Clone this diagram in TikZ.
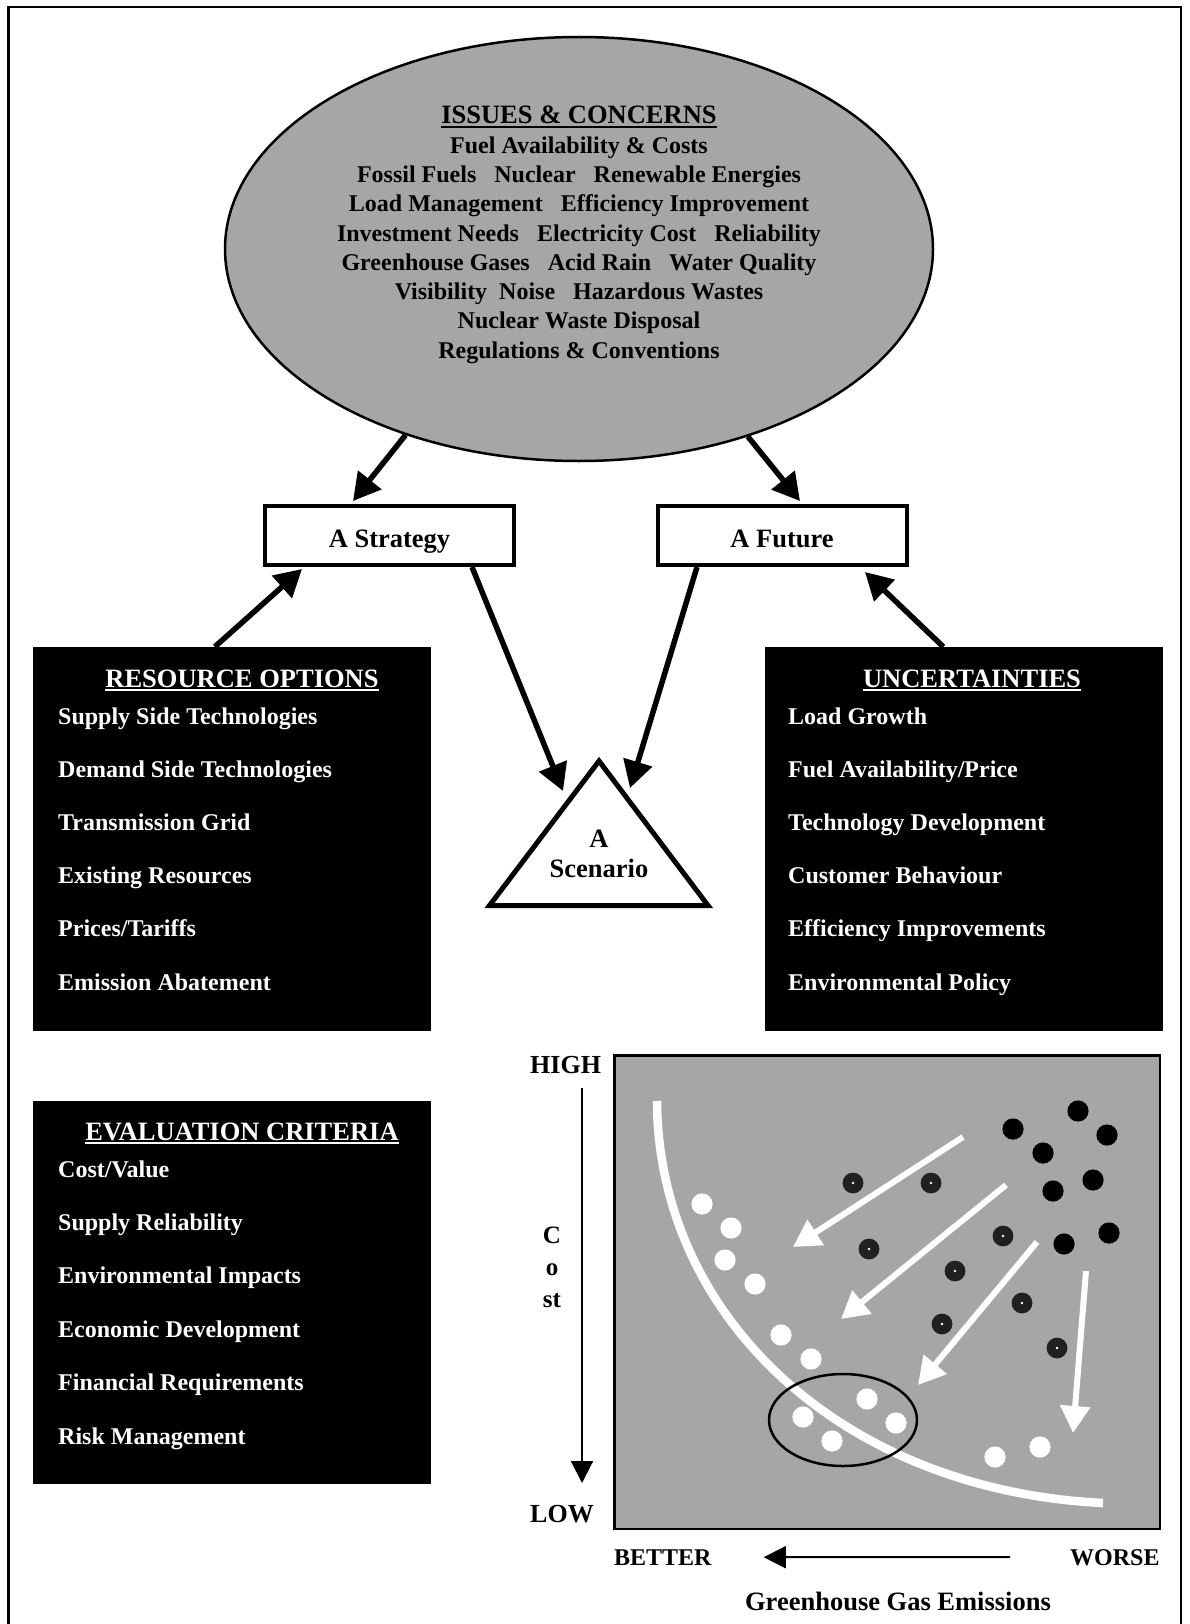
\documentclass[tikz,border=0pt]{standalone}
\usepackage{fontspec}
\setmainfont{Liberation Serif}
\usetikzlibrary{arrows.meta,shapes.geometric}
\definecolor{panelgray}{RGB}{166,166,166}
\definecolor{dotdark}{RGB}{32,32,32}
\begin{document}
\begin{tikzpicture}[x=1pt,y=-1pt,
  listitem/.style={inner sep=0pt, anchor=base west, font=\bfseries\fontsize{24}{28}\selectfont},
  issue/.style={inner sep=0pt, anchor=base, font=\bfseries\fontsize{24}{28}\selectfont},
  heading/.style={inner sep=0pt, anchor=base, font=\bfseries\fontsize{26.5}{30}\selectfont},
  costletter/.style={inner sep=0pt, anchor=base, font=\bfseries\fontsize{25}{28}\selectfont},
  endlabel/.style={inner sep=0pt, anchor=base west, font=\bfseries\fontsize{26}{30}\selectfont},
  ghglabel/.style={inner sep=0pt, anchor=base west, font=\bfseries\fontsize{24}{28}\selectfont},
  flowarrow/.style={line width=5.5pt, -{Triangle[length=27pt,width=29pt]}},
  movearrow/.style={white, line width=6pt, -{Triangle[length=27pt,width=29pt]}},
  costaxis/.style={line width=2pt, -{Triangle[length=22pt,width=22pt]}},
  namebox/.style={draw, line width=4pt, fill=white, minimum width=249pt, minimum height=59pt,
    inner sep=0pt, text height=23pt, text depth=0pt, font=\bfseries\fontsize{26.5}{30}\selectfont},
  listbox/.style={fill=black, minimum width=398pt, minimum height=384pt, inner sep=0pt},
  gooddot/.style={fill=white},
  baddot/.style={fill=black},
  middot/.style={fill=dotdark},
]
\useasboundingbox (0,0) rectangle (1189,1624);

% page frame
\draw[line width=2.5pt] (8.3,1630) -- (8.3,7) -- (1181,7) -- (1181,1630);

% issues & concerns
\node[ellipse, draw, line width=2.5pt, fill=panelgray, minimum width=708pt, minimum height=424pt, inner sep=0pt] (issues) at (579,249) {};
\node[heading] (issuestitle) at (579,124) {ISSUES \& CONCERNS};
\draw[line width=1.5pt] ([yshift=-3pt]issuestitle.base west) -- ([yshift=-3pt]issuestitle.base east);
\foreach \txt [count=\i] in {
  Fuel Availability \& Costs,
  Fossil Fuels~~~Nuclear~~~Renewable Energies,
  Load Management~~~Efficiency Improvement,
  Investment Needs~~~Electricity Cost~~~Reliability,
  Greenhouse Gases~~~Acid Rain~~~Water Quality,
  Visibility~~Noise~~~Hazardous Wastes,
  Nuclear Waste Disposal,
  Regulations \& Conventions}
  \node[issue] (issue\i) at (579,{124+29.25*\i}) {\txt};

% strategy and future
\node[namebox] (strategy) at (389.5,535.5) {A Strategy};
\node[namebox] (future) at (782,535.5) {A Future};

% scenario
\draw[line width=5pt] (599,761) -- (708,905.5) -- (489.5,905.5) -- cycle;
\node[heading] (scenA) at (599,847) {A};
\node[heading] (scenB) at (599,877) {Scenario};
\coordinate (scenL) at (563,791);
\coordinate (scenR) at (630,788);

% resource options
\node[listbox] (resources) at (232,839) {};
\node[heading, text=white] (restitle) at (242,687) {RESOURCE OPTIONS};
\draw[white, line width=1.5pt] ([yshift=-3pt]restitle.base west) -- ([yshift=-3pt]restitle.base east);
\foreach \txt [count=\i] in {Supply Side Technologies, Demand Side Technologies, Transmission Grid,
  Existing Resources, Prices/Tariffs, Emission Abatement}
  \node[listitem, text=white] (res\i) at (58,{670.8+53.2*\i}) {\txt};

% uncertainties
\node[listbox] (uncertain) at (963.5,839) {};
\node[heading, text=white] (unctitle) at (972,687) {UNCERTAINTIES};
\draw[white, line width=1.5pt] ([yshift=-3pt]unctitle.base west) -- ([yshift=-3pt]unctitle.base east);
\foreach \txt [count=\i] in {Load Growth, Fuel Availability/Price, Technology Development,
  Customer Behaviour, Efficiency Improvements, Environmental Policy}
  \node[listitem, text=white] (unc\i) at (788,{670.8+53.2*\i}) {\txt};

% evaluation criteria
\node[listbox, minimum height=383pt] (criteria) at (232,1292.5) {};
\node[heading, text=white] (evaltitle) at (242,1140) {EVALUATION CRITERIA};
\draw[white, line width=1.5pt] ([yshift=-3pt]evaltitle.base west) -- ([yshift=-3pt]evaltitle.base east);
\foreach \txt [count=\i] in {Cost/Value, Supply Reliability, Environmental Impacts,
  Economic Development, Financial Requirements, Risk Management}
  \node[listitem, text=white] (eval\i) at (58,{1123.6+53.4*\i}) {\txt};

% connectors
\draw[flowarrow] (issues.227) -- ([xshift=90pt,yshift=3pt]strategy.north west);
\draw[flowarrow] (issues.312) -- ([xshift=144.5pt,yshift=3pt]future.north west);
\draw[flowarrow] ([xshift=182pt]resources.north west) -- ([xshift=39pt,yshift=-2pt]strategy.south west);
\draw[flowarrow] ([xshift=179pt]uncertain.north west) -- ([xshift=209.5pt,yshift=-5pt]future.south west);
\draw[flowarrow] ([xshift=209pt]strategy.south west) -- (scenL);
\draw[flowarrow] ([xshift=41.5pt]future.south west) -- (scenR);

% cost / emissions chart
\node[draw, line width=2.5pt, fill=panelgray, minimum width=545.5pt, minimum height=473.5pt, inner sep=0pt] (chart) at (887,1292) {};
\draw[white, line width=8.5pt] (657,1101) .. controls (658,1315) and (840,1490) .. (1103,1503);
\foreach \p in {(702,1204),(731,1228),(725,1260),(755,1284),(781,1335),(811,1359),
  (867,1399),(803,1417),(832,1441),(896,1423),(995,1457),(1040,1447)}
  \fill[white] \p circle[radius=10.6];
\foreach \p in {(1013,1129),(1078,1111),(1107,1135),(1043,1153),(1093,1180),(1053,1191),
  (1109,1233),(1064,1244)}
  \fill[black] \p circle[radius=10.6];
\foreach \p in {(853,1183),(931,1183),(869,1249),(1003,1236),(955,1271),(1022,1303),
  (942,1324),(1057,1348)}{
  \fill[dotdark] \p circle[radius=10.4];
  \fill[white] \p circle[radius=1.4];
}
\draw[movearrow] (963,1137) -- (793,1247);
\draw[movearrow] (1006,1185) -- (841,1319);
\draw[movearrow] (1037,1242) -- (918,1385);
\draw[movearrow] (1086,1271) -- (1073,1433);
\draw[line width=2.5pt] (843,1420) ellipse[x radius=74, y radius=46];

% axes
\node[endlabel] (high) at (530,1073) {HIGH};
\node[endlabel] (low) at (530,1522) {LOW};
\node[costletter] (costC) at (552,1243) {C};
\node[costletter] (costO) at (552,1275) {o};
\node[costletter] (costST) at (552,1307) {st};
\coordinate (costtop) at (582,1088);
\coordinate (costbot) at (582,1483);
\draw[costaxis] (costtop) -- (costbot);
\node[ghglabel] (better) at (614,1565) {BETTER};
\node[ghglabel] (worse) at (1070,1565) {WORSE};
\draw[costaxis, shorten <=60pt, shorten >=52pt] (worse.west) -- (better.east);
\node[heading] (ghg) at (898,1610) {Greenhouse Gas Emissions};
\end{tikzpicture}
\end{document}
